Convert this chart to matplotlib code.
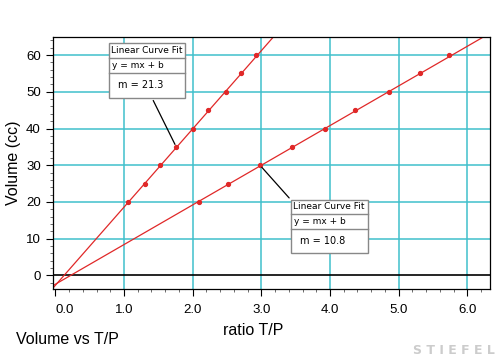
import numpy as np
import matplotlib.pyplot as plt
from matplotlib.patches import Rectangle

# data
vol = [20, 25, 30, 35, 40, 45, 50, 55, 60]
ratio_a = [1.06, 1.31, 1.52, 1.76, 2.00, 2.23, 2.49, 2.71, 2.92]
ratio_b = [2.09, 2.51, 2.98, 3.45, 3.92, 4.37, 4.86, 5.31, 5.73]
fit_a = (21.3, -2.7)
fit_b = (10.8, -2.4)
xticks = [0, 1, 2, 3, 4, 5, 6]
yticks = [0, 10, 20, 30, 40, 50, 60]

W, H = 500, 359
red = '#e02828'
cyan = '#40c0cc'

def px(x, y):
    return (x / W, 1 - y / H)

fig = plt.figure(figsize=(W / 100, H / 100), dpi=100)
ax = fig.add_axes([53.3 / W, 1 - 289 / H, (490 - 53.3) / W, (289 - 36.7) / H])

ax.set_xlim(-0.03, 6.33)
ax.set_ylim(-3.7, 65)
ax.set_xticks(xticks)
ax.set_xticklabels(['%.1f' % t for t in xticks])
ax.set_yticks(yticks)
ax.set_xticks(np.arange(0, 6.4, 0.2), minor=True)
ax.set_yticks(np.arange(-2, 65, 2), minor=True)
ax.tick_params(which='major', length=5, width=0.8, labelsize=9.5, pad=6)
ax.tick_params(axis='y', which='major', pad=4)
ax.tick_params(which='minor', length=2.5, width=0.6, color='#555555')
for lab in ax.get_xticklabels() + ax.get_yticklabels():
    lab.set_family('Liberation Sans')
ax.get_xticklabels()[0].set_ha('left')

for t in xticks[1:]:
    ax.axvline(t, color=cyan, lw=1.1, zorder=1)
for t in yticks[1:]:
    ax.axhline(t, color=cyan, lw=1.1, zorder=1)
ax.axhline(0, color='black', lw=1.2, zorder=1)

for xs, (m, b) in [(ratio_a, fit_a), (ratio_b, fit_b)]:
    ax.axline((0, b), slope=m, color=red, lw=0.9, zorder=2)
    ax.plot(xs, vol, 'o', color=red, ms=2.8, zorder=3)

for s in ax.spines.values():
    s.set_linewidth(0.9)

ax.set_xlabel('ratio T/P', fontsize=11.5, family='Liberation Sans')
ax.set_ylabel('Volume (cc)', fontsize=11.5, family='Liberation Sans')
ax.xaxis.set_label_coords(0.457, -0.135)
ax.yaxis.set_label_coords(-0.075, 0.5)

# fit boxes
def fit_box(x0, y0, x1, y1, d1, d2, m):
    r = Rectangle(px(x0, y1), (x1 - x0) / W, (y1 - y0) / H, transform=fig.transFigure,
                  facecolor='white', edgecolor='#888888', lw=1.0, zorder=5)
    fig.add_artist(r)
    for d in (d1, d2):
        fig.add_artist(plt.Line2D([x0 / W, x1 / W], [1 - d / H, 1 - d / H],
                                  transform=fig.transFigure, color='#888888', lw=1.0, zorder=6))
    kw = dict(fontsize=6.5, family='DejaVu Sans', va='center', ha='left', zorder=7)
    fig.text(*px(x0 + 2, (y0 + d1) / 2), 'Linear Curve Fit', **kw)
    fig.text(*px(x0 + 3, (d1 + d2) / 2), 'y = mx + b', **kw)
    fig.text(*px(x0 + 9, (d2 + y1) / 2), 'm = %.1f' % m, **dict(kw, fontsize=7))

fit_box(109, 43.3, 185, 97.7, 58.3, 73.3, fit_a[0])
fit_box(291, 200, 368, 253, 214, 229, fit_b[0])

ax.annotate('', xy=(ratio_a[3], vol[3]), xytext=px(152, 98), textcoords='figure fraction',
            arrowprops=dict(arrowstyle='-', color='black', lw=0.9), zorder=4)
ax.annotate('', xy=(ratio_b[2], vol[2]), xytext=px(291, 200), textcoords='figure fraction',
            arrowprops=dict(arrowstyle='-', color='black', lw=0.9), zorder=4)

fig.text(*px(16, 339), 'Volume vs T/P', fontsize=11.5, family='Liberation Sans', va='center')
fig.text(*px(495, 350), 'S T I E F E L', fontsize=9, fontweight='bold',
         color='#cccccc', ha='right', va='center', family='DejaVu Sans')

fig.savefig('out.png', dpi=100)
